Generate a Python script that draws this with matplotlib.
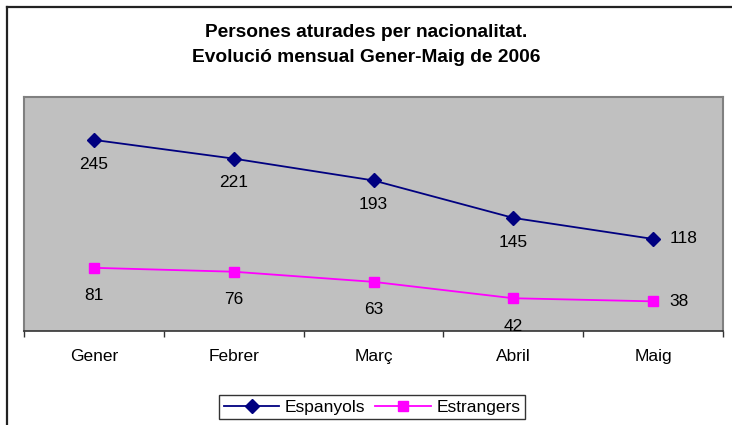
import matplotlib
matplotlib.use("Agg")
import matplotlib.pyplot as plt
from matplotlib.lines import Line2D
from matplotlib.ticker import FixedLocator, NullFormatter

months = ["Gener", "Febrer", "Març", "Abril", "Maig"]
espanyols = [245, 221, 193, 145, 118]
estrangers = [81, 76, 63, 42, 38]
title = "Persones aturades per nacionalitat.\nEvolució mensual Gener-Maig de 2006"

plt.rcParams['font.family'] = ['Liberation Sans', 'DejaVu Sans']

W, H, DPI = 732, 425, 100
fig = plt.figure(figsize=(W / DPI, H / DPI), dpi=DPI)
fig.patch.set_facecolor("white")

def fx(px):
    return px / W

def fy(py):
    return 1 - py / H

# outer chart frame
fig.add_artist(Line2D([fx(7), fx(7)], [fy(7), fy(430)], color="#222222", lw=1.6))
fig.add_artist(Line2D([fx(7), fx(740)], [fy(7), fy(7)], color="#222222", lw=1.6))

left, right, top, bottom = 24, 723, 97, 331
ax = fig.add_axes([fx(left), fy(bottom), fx(right) - fx(left), fy(top) - fy(bottom)])
ax.set_facecolor("#C0C0C0")

x = list(range(len(months)))
ax.plot(x, espanyols, color="#000080", marker="D", markersize=7.5, lw=1.3, label="Espanyols")
ax.plot(x, estrangers, color="#FF00FF", marker="s", markersize=7.5, lw=1.3, label="Estrangers")

ax.set_xlim(-0.5, len(months) - 0.5)
ax.set_ylim(0, 300)
ax.set_yticks([])

ax.set_xticks(x)
ax.set_xticklabels(months, fontsize=12.5)
ax.tick_params(axis="x", which="major", length=0, pad=13)
ax.xaxis.set_minor_locator(FixedLocator([i - 0.5 for i in range(len(months) + 1)]))
ax.xaxis.set_minor_formatter(NullFormatter())
ax.tick_params(axis="x", which="minor", length=4, width=1, color="#333333", direction="out")

for s in ["top", "left", "right"]:
    ax.spines[s].set_color("#808080")
    ax.spines[s].set_linewidth(1.5)
ax.spines["bottom"].set_color("#333333")
ax.spines["bottom"].set_linewidth(1.2)

n = len(months)
for i, v in enumerate(espanyols):
    if i == n - 1:
        ax.annotate(str(v), (i, v), xytext=(12, 0), textcoords="offset points",
                    ha="left", va="center", fontsize=12.5)
    else:
        ax.annotate(str(v), (i, v), xytext=(0, -17.5), textcoords="offset points",
                    ha="center", va="center", fontsize=12.5)
for i, v in enumerate(estrangers):
    if i == n - 1:
        ax.annotate(str(v), (i, v), xytext=(12, 0), textcoords="offset points",
                    ha="left", va="center", fontsize=12.5)
    else:
        ax.annotate(str(v), (i, v), xytext=(0, -20), textcoords="offset points",
                    ha="center", va="center", fontsize=12.5)

fig.text(fx(366), fy(45), title, ha="center", va="center", fontsize=13.8,
         fontweight="bold", linespacing=1.55)

leg = fig.legend(loc="center", bbox_to_anchor=(fx(372), fy(407)), ncol=2,
                 fontsize=12.5, frameon=True, fancybox=False, edgecolor="black",
                 handlelength=3.2, handletextpad=0.3, columnspacing=0.6,
                 borderpad=0.25, borderaxespad=0)
leg.get_frame().set_linewidth(1.0)

fig.savefig("out.png", dpi=DPI)
